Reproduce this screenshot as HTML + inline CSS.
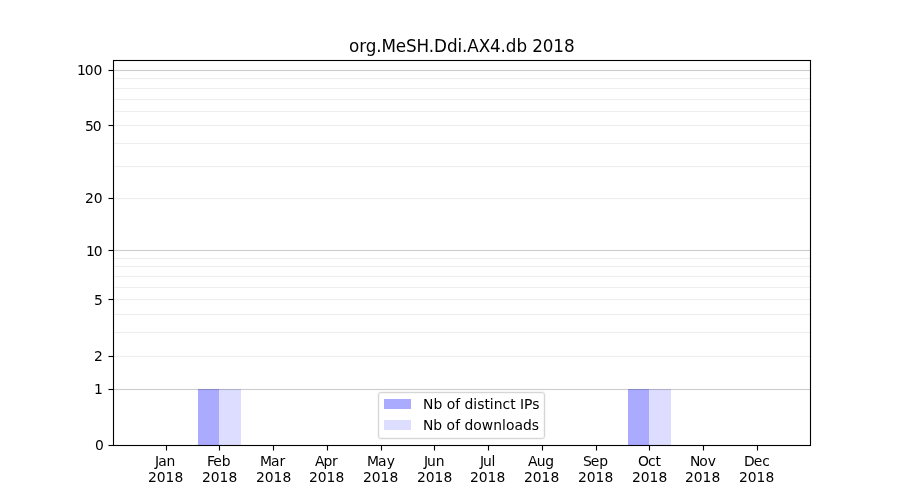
<!DOCTYPE html>
<html lang="en">
<head>
<meta charset="utf-8">
<title>org.MeSH.Ddi.AX4.db 2018</title>
<style>
html,body{margin:0;padding:0;background:#fff;}
body{width:900px;height:500px;overflow:hidden;position:relative;
  font-family:"DejaVu Sans","Liberation Sans",sans-serif;color:#000;}
#fig{position:absolute;left:0;top:0;width:900px;height:500px;background:#fff;overflow:hidden;}
#fig div{position:absolute;}
.t{white-space:pre;font-size:13.8889px;line-height:16px;}
.title{white-space:pre;font-size:16.8px;line-height:20px;}
.t::first-letter,.title::first-letter{margin-right:var(--k,0);}
.bar1{background:#aaaaff;}
.bar2{background:#ddddff;}
.gM{left:114px;width:696px;height:1px;background:rgba(0,0,0,0.2);box-shadow:0 -1px 0 rgba(0,0,0,0.012),0 1px 0 rgba(0,0,0,0.012);}
.gm{left:114px;width:696px;height:1px;background:rgba(0,0,0,0.0667);box-shadow:0 -1px 0 rgba(0,0,0,0.004),0 1px 0 rgba(0,0,0,0.004);}
.sh{height:1px;background:#000;box-shadow:0 -1px 0 rgba(0,0,0,0.055),0 1px 0 rgba(0,0,0,0.055);}
.sv{width:1px;background:#000;box-shadow:-1px 0 0 rgba(0,0,0,0.055),1px 0 0 rgba(0,0,0,0.055);}
.ty{left:108px;width:5px;height:1px;background:linear-gradient(to right,rgba(0,0,0,0.5) 0,rgba(0,0,0,0.5) 1px,#000 1px,#000 100%);box-shadow:0 -1px 0 rgba(0,0,0,0.055),0 1px 0 rgba(0,0,0,0.055);}
.tx{top:446px;width:1px;height:5px;background:linear-gradient(to bottom,#000 0,#000 4px,rgba(0,0,0,0.5) 4px,rgba(0,0,0,0.5) 5px);box-shadow:-1px 0 0 rgba(0,0,0,0.055),1px 0 0 rgba(0,0,0,0.055);}
#legbox{left:378px;top:392px;width:165px;height:45px;border:1px solid #d6d6d6;border-radius:3px;background:#fff;box-shadow:0 0 0 1px rgba(0,0,0,0.031),inset 0 0 0 1px rgba(0,0,0,0.031);}
</style>
</head>
<body>
<div id="fig">
<!-- title -->
<div class="title" style="left:349px;top:36px;letter-spacing:-0.1px">org.MeSH.Ddi.AX4.db 2018</div>
<!-- bars -->
<div class="bar1" style="left:198px;top:389px;width:21px;height:56px"></div>
<div class="bar2" style="left:219px;top:389px;width:22px;height:56px"></div>
<div class="bar1" style="left:628px;top:389px;width:21px;height:56px"></div>
<div class="bar2" style="left:649px;top:389px;width:22px;height:56px"></div>
<!-- horizontal grid lines -->
<div class="gM" style="top:389px"></div>
<div class="gm" style="top:356px"></div>
<div class="gm" style="top:332px"></div>
<div class="gm" style="top:314px"></div>
<div class="gm" style="top:299px"></div>
<div class="gm" style="top:287px"></div>
<div class="gm" style="top:276px"></div>
<div class="gm" style="top:266px"></div>
<div class="gm" style="top:258px"></div>
<div class="gM" style="top:250px"></div>
<div class="gm" style="top:198px"></div>
<div class="gm" style="top:166px"></div>
<div class="gm" style="top:143px"></div>
<div class="gm" style="top:125px"></div>
<div class="gm" style="top:111px"></div>
<div class="gm" style="top:99px"></div>
<div class="gm" style="top:88px"></div>
<div class="gm" style="top:78px"></div>
<div class="gM" style="top:70px"></div>
<!-- axes frame -->
<div class="sh" style="left:113px;top:60px;width:698px"></div>
<div class="sh" style="left:113px;top:445px;width:698px"></div>
<div class="sv" style="left:113px;top:60px;height:386px"></div>
<div class="sv" style="left:810px;top:60px;height:386px"></div>
<!-- y axis ticks and labels -->
<div class="ty" style="top:445px"></div>
<div class="t" style="left:95px;top:437px">0</div>
<div class="ty" style="top:389px"></div>
<div class="t" style="left:94px;top:381px">1</div>
<div class="ty" style="top:356px"></div>
<div class="t" style="left:94px;top:348px">2</div>
<div class="ty" style="top:299px"></div>
<div class="t" style="left:94px;top:292px">5</div>
<div class="ty" style="top:250px"></div>
<div class="t" style="left:85.875px;top:243px;letter-spacing:-0.9px">10</div>
<div class="ty" style="top:198px"></div>
<div class="t" style="left:85px;top:190px">20</div>
<div class="ty" style="top:125px"></div>
<div class="t" style="left:84.875px;top:118px;letter-spacing:-0.9px">50</div>
<div class="ty" style="top:70px"></div>
<div class="t" style="left:76.875px;top:62px;letter-spacing:-0.2px;--k:-0.75px">100</div>
<!-- x axis ticks and labels -->
<div class="tx" style="left:166px"></div>
<div class="t" style="left:154.875px;top:453px;letter-spacing:-0.375px;--k:-0.25px">Jan</div>
<div class="t" style="left:147.875px;top:469px;letter-spacing:0.025px">2018</div>
<div class="tx" style="left:219px"></div>
<div class="t" style="left:206.875px;top:453px;letter-spacing:-0.25px;--k:-1.25px">Feb</div>
<div class="t" style="left:201.875px;top:469px;letter-spacing:0.025px">2018</div>
<div class="tx" style="left:273px"></div>
<div class="t" style="left:259.938px;top:453px;letter-spacing:-0.2px;--k:-0.625px">Mar</div>
<div class="t" style="left:255.875px;top:469px;letter-spacing:0.025px">2018</div>
<div class="tx" style="left:327px"></div>
<div class="t" style="left:315px;top:453px;letter-spacing:-0.45px;--k:-0.5px">Apr</div>
<div class="t" style="left:308.875px;top:469px;letter-spacing:0.025px">2018</div>
<div class="tx" style="left:381px"></div>
<div class="t" style="left:366.938px;top:453px;letter-spacing:0.05px;--k:-0.875px">May</div>
<div class="t" style="left:362.875px;top:469px;letter-spacing:0.025px">2018</div>
<div class="tx" style="left:434px"></div>
<div class="t" style="left:423.875px;top:453px;letter-spacing:-0.2px;--k:-0.75px">Jun</div>
<div class="t" style="left:416.875px;top:469px;letter-spacing:0.025px">2018</div>
<div class="tx" style="left:488px"></div>
<div class="t" style="left:480px;top:453px;letter-spacing:-0.5px;--k:-0.5px">Jul</div>
<div class="t" style="left:469.875px;top:469px;letter-spacing:0.025px">2018</div>
<div class="tx" style="left:542px"></div>
<div class="t" style="left:528px;top:453px;letter-spacing:-0.45px;--k:-0.25px">Aug</div>
<div class="t" style="left:523.875px;top:469px;letter-spacing:0.025px">2018</div>
<div class="tx" style="left:596px"></div>
<div class="t" style="left:582.875px;top:453px;letter-spacing:-0.15px;--k:-0.75px">Sep</div>
<div class="t" style="left:577.875px;top:469px;letter-spacing:0.025px">2018</div>
<div class="tx" style="left:649px"></div>
<div class="t" style="left:637.875px;top:453px;letter-spacing:-0.25px;--k:-0.5px">Oct</div>
<div class="t" style="left:631.875px;top:469px;letter-spacing:0.025px">2018</div>
<div class="tx" style="left:703px"></div>
<div class="t" style="left:689.875px;top:453px;letter-spacing:-0.15px;--k:-0.75px">Nov</div>
<div class="t" style="left:684.875px;top:469px;letter-spacing:0.025px">2018</div>
<div class="tx" style="left:757px"></div>
<div class="t" style="left:743.875px;top:453px;letter-spacing:-0.2px;--k:-0.5px">Dec</div>
<div class="t" style="left:738.875px;top:469px;letter-spacing:0.025px">2018</div>
<!-- legend -->
<div id="legbox"></div>
<div class="bar1" style="left:384px;top:399px;width:27px;height:10px"></div>
<div class="bar2" style="left:384px;top:420px;width:27px;height:10px"></div>
<div class="t" style="left:423px;top:396px;--k:0.125px">Nb of distinct IPs</div>
<div class="t" style="left:422.938px;top:417px;letter-spacing:0.025px">Nb of downloads</div>
</div>
</body>
</html>
